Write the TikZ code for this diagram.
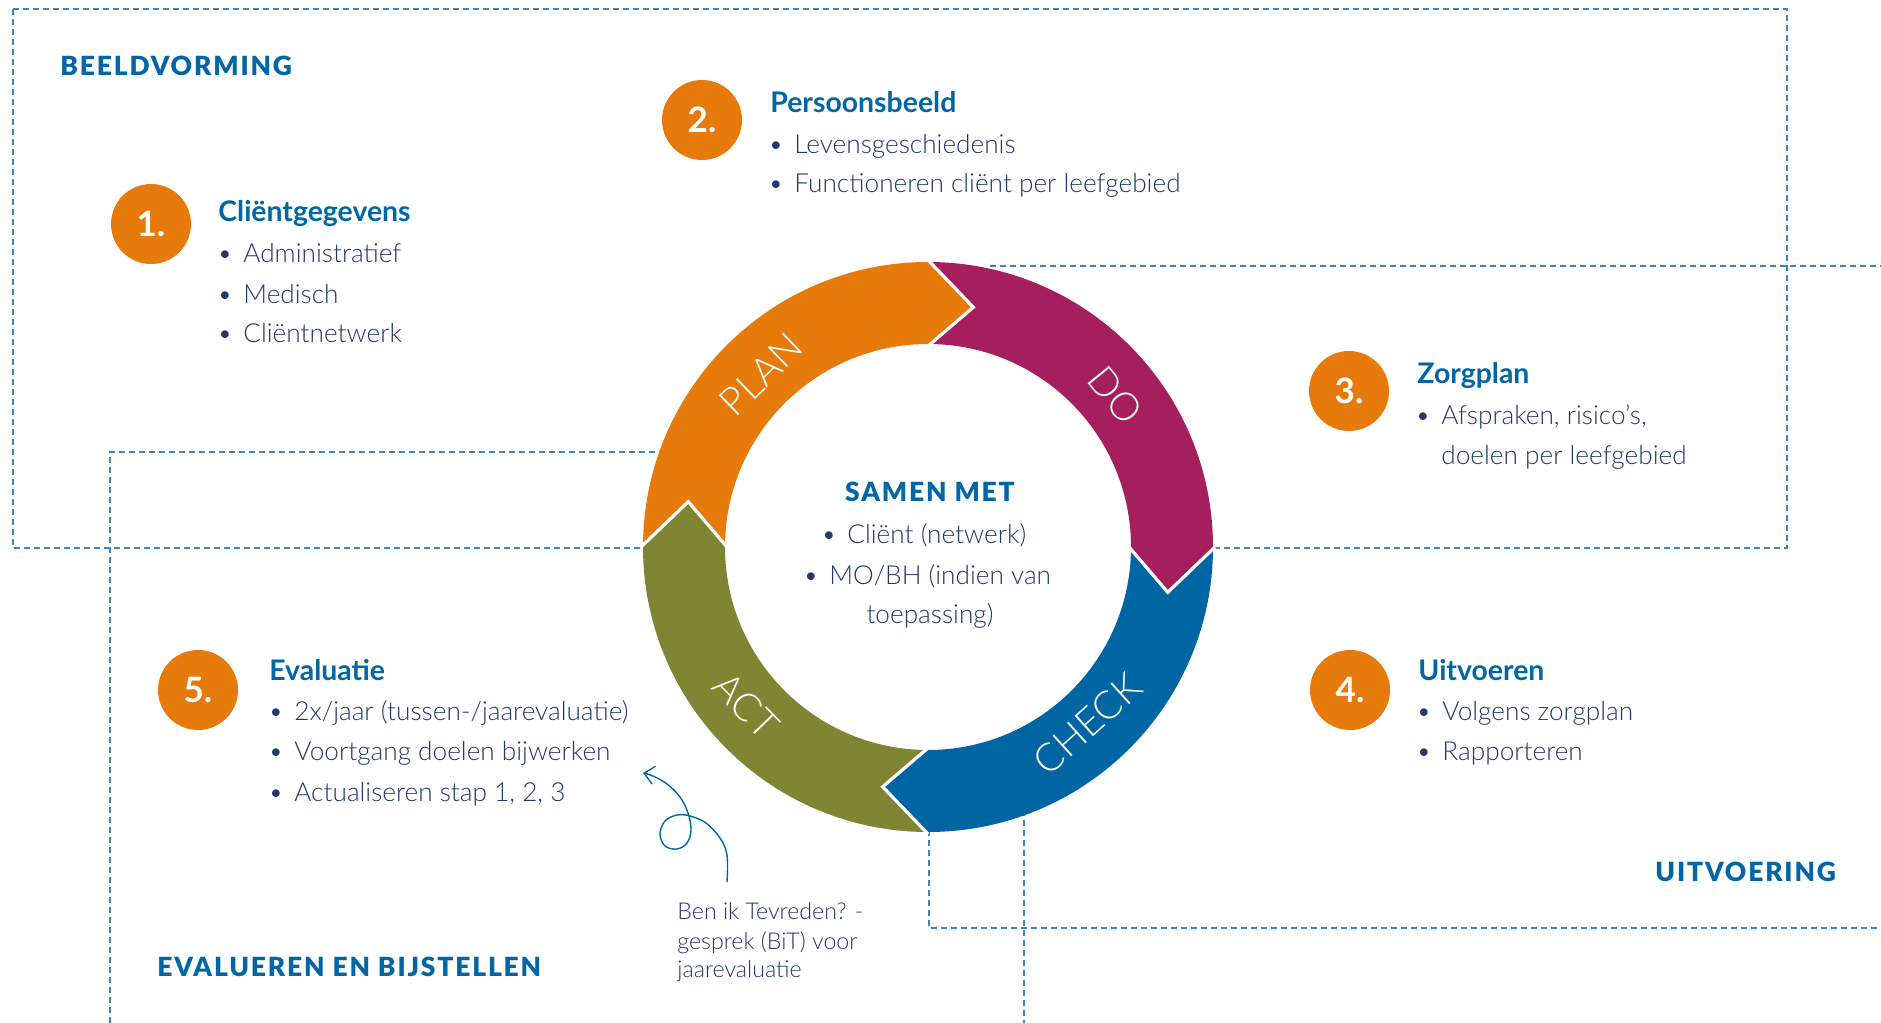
\documentclass[tikz,border=0pt]{standalone}
\usepackage{fontspec}
\usetikzlibrary{arrows.meta}
\setmainfont{Lato}
\IfFontExistsTF{Lato Light}{\newfontfamily\lightf{Lato Light}}{\newfontfamily\lightf{Lato}}
\IfFontExistsTF{Lato Black}{\newfontfamily\blackf[LetterSpace=7]{Lato Black}}{\newfontfamily\blackfx[LetterSpace=7]{Lato}\def\blackf{\blackfx\bfseries}}
\definecolor{ringorange}{HTML}{E67A0A}
\definecolor{ringmag}{HTML}{A51F5F}
\definecolor{ringblue}{HTML}{0065A3}
\definecolor{ringolive}{HTML}{7F8532}
\definecolor{hblue}{HTML}{0066A6}
\definecolor{navy}{HTML}{23386C}
\definecolor{dashblue}{HTML}{3A86C0}
\newcommand\itm[1]{\makebox[11pt][l]{\hspace{-2pt}\textbullet}#1}
\begin{document}
\begin{tikzpicture}[x=0.5pt,y=0.5pt,
  body/.style={font=\lightf\fontsize{13.1}{15}\selectfont, text=navy, anchor=west, inner sep=0pt, text height=11pt, text depth=1pt},
  small/.style={font=\lightf\fontsize{11.6}{13}\selectfont, text=navy, anchor=west, inner sep=0pt, text height=9.5pt, text depth=0.5pt},
  head/.style={font=\bfseries\fontsize{14.2}{16}\selectfont, text=hblue, anchor=west, inner sep=0pt, text height=12pt, text depth=1.4pt},
  sect/.style={font=\blackf\fontsize{13.2}{15}\selectfont, text=hblue, anchor=west, inner sep=0pt, text height=9.5pt, text depth=0pt},
  num/.style={circle, fill=ringorange, minimum size=40pt, inner sep=0pt, text=white, font=\bfseries\fontsize{17.5}{20}\selectfont},
  ringtxt/.style={text=white, font=\lightf\fontsize{19.5}{22}\selectfont, inner sep=0pt},
  dashln/.style={draw=dashblue, line width=0.8pt, dash pattern=on 3pt off 2pt},
  gap/.style={draw=white, line width=1.6pt, line join=miter},
  curl/.style={draw=ringblue, line width=0.7pt}
]
\useasboundingbox (0,0) rectangle (1881,-1023);
\fill[white] (0,0) rectangle (1881,-1023);

% dashed region borders
\draw[dashln] (13,-9) rectangle (1787,-548);
\draw[dashln] (990,-266) -- (1881,-266);
\draw[dashln] (929,-800) -- (929,-928) -- (1881,-928);
\draw[dashln] (110,-1023) -- (110,-452) -- (700,-452);
\draw[dashln] (1024,-800) -- (1024,-1023);

% ring
\begin{scope}[shift={(928,-547)}]
  \def\Ro{285}\def\Ri{203}\def\Rm{244}\def\tp{10.7}
  \fill[white] (0,0) circle[radius=\Ri+2];
  \foreach \a/\c in {180/ringorange, 90/ringmag, 0/ringblue, -90/ringolive}{
    \fill[\c] (\a:\Ro) arc[start angle=\a, end angle=\a-90, radius=\Ro]
      -- (\a-90-\tp:\Rm) -- (\a-90:\Ri)
      arc[start angle=\a-90, end angle=\a, radius=\Ri]
      -- (\a-\tp:\Rm) -- cycle;
  }
  \foreach \b in {90,0,-90,180}{
    \draw[gap] (\b:\Ro+2) -- (\b-\tp:\Rm) -- (\b:\Ri-2);
  }
  \node[ringtxt, rotate=44] (plan) at (134:240) {PLAN};
  \node[ringtxt, rotate=-51] (do) at (39:241) {DO};
  \node[ringtxt, rotate=42] (check) at (-48:238) {CHECK};
  \node[ringtxt, rotate=-46] (act) at (221:241) {ACT};
\end{scope}

% centre
\node[sect, anchor=center] (samen) at (930,-492) {SAMEN MET};
\node[body] (s1) at (825,-533) {\itm{Cliënt (netwerk)}};
\node[body] (s2) at (807,-574) {\itm{MO/BH (indien van}};
\node[body, anchor=center] (s3) at (930,-613) {toepassing)};

% section labels
\node[sect] (beeld) at (60,-66) {BEELDVORMING};
\node[sect] (uitv) at (1655,-872) {UITVOERING};
\node[sect] (evalb) at (157,-967) {EVALUEREN EN BIJSTELLEN};

% 1
\node[num] (n1) at (151,-224) {1.};
\node[head] (h1) at (218,-211) {Cliëntgegevens};
\node[body] (b1a) at (221,-252) {\itm{Administratief}};
\node[body] (b1b) at (221,-293) {\itm{Medisch}};
\node[body] (b1c) at (221,-332) {\itm{Cliëntnetwerk}};

% 2
\node[num] (n2) at (702,-120) {2.};
\node[head] (h2) at (770,-102) {Persoonsbeeld};
\node[body] (b2a) at (772,-143) {\itm{Levensgeschiedenis}};
\node[body] (b2b) at (772,-182) {\itm{Functioneren cliënt per leefgebied}};

% 3
\node[num] (n3) at (1349,-391) {3.};
\node[head] (h3) at (1417,-373) {Zorgplan};
\node[body] (b3a) at (1419,-414) {\itm{Afspraken, risico’s,}};
\node[body] (b3b) at (1441,-454) {doelen per leefgebied};

% 4
\node[num] (n4) at (1350,-690) {4.};
\node[head] (h4) at (1418,-670) {Uitvoeren};
\node[body] (b4a) at (1420,-710) {\itm{Volgens zorgplan}};
\node[body] (b4b) at (1420,-750) {\itm{Rapporteren}};

% 5
\node[num] (n5) at (198,-690) {5.};
\node[head] (h5) at (269,-670) {Evaluatie};
\node[body] (b5a) at (272,-710) {\itm{2x/jaar (tussen-/jaarevaluatie)}};
\node[body] (b5b) at (272,-750) {\itm{Voortgang doelen bijwerken}};
\node[body] (b5c) at (272,-791) {\itm{Actualiseren stap 1, 2, 3}};

% BiT note
\node[small] (bit1) at (677,-910) {Ben ik Tevreden? -};
\node[small] (bit2) at (677,-940) {gesprek (BiT) voor};
\node[small] (bit3) at (677,-968) {jaarevaluatie};
\coordinate (cs) at (727,-882);
\coordinate (ce) at (643,-773);
\draw[curl, -{Straight Barb[length=5pt,width=9pt]}] plot[smooth, tension=0.6] coordinates {
  (cs) (727,-855) (720,-838) (706,-823) (690,-816) (677,-815) (665,-821) (660,-834)
  (665,-846) (677,-849) (687,-843) (691,-830) (688,-813) (680,-797) (667,-784) (653,-776) (ce)};
\end{tikzpicture}
\end{document}
